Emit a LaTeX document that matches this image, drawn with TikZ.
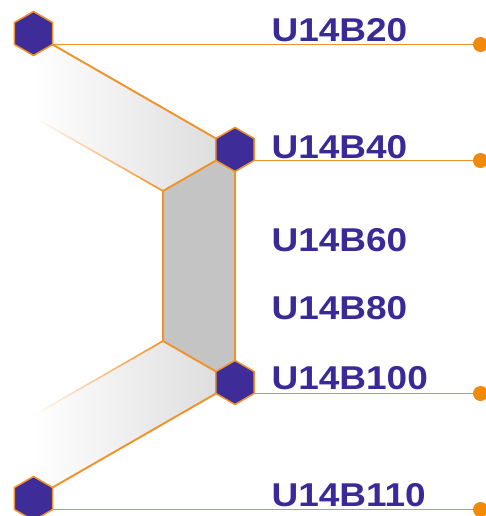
\documentclass[tikz,border=0pt]{standalone}
\usepackage{fontspec}
\setmainfont{Liberation Sans}
\newfontfamily\labfont[FakeStretch=1.12]{Liberation Sans}
\usetikzlibrary{shapes.geometric}
\definecolor{lineor}{RGB}{241,145,40}
\definecolor{dotor}{RGB}{240,138,10}
\definecolor{hexfill}{RGB}{62,44,152}
\definecolor{labcol}{RGB}{58,42,152}
\definecolor{bandgray}{RGB}{222,222,222}
\definecolor{midgray}{RGB}{196,196,196}
\tikzset{
  hexnode/.style={regular polygon, regular polygon sides=6, shape border rotate=30,
    minimum size=44pt, inner sep=0pt, fill=hexfill, draw=lineor, line width=1.5pt},
  dotnode/.style={circle, fill=dotor, minimum size=15pt, inner sep=0pt},
  wire/.style={draw=lineor, line width=1.9pt},
  fadeedge/.style={left color=white, right color=lineor},
  lab/.style={anchor=base west, inner sep=0pt, text=labcol, font=\labfont\bfseries\fontsize{33}{33}\selectfont}
}
\begin{document}
\begin{tikzpicture}[x=1pt,y=-1pt]
\useasboundingbox (0,0) rectangle (485,516);
% bands
\fill[left color=white, right color=bandgray]
  (52.5,44.5) -- (216,138.5) -- (216,160.5) -- (163,191) -- (33.5,117) -- (33.5,55.5) -- cycle;
\fill[left color=white, right color=bandgray]
  (163,341) -- (216,371.5) -- (216,393.5) -- (52.5,487.5) -- (33.5,476.5) -- (33.5,415.5) -- cycle;
\fill[midgray] (163,191) -- (216,160.5) -- (235,171.5) -- (235,360.5) -- (216,371.5) -- (163,341) -- cycle;
% band edges
\coordinate (a1) at (52.5,44.5);
\coordinate (a2) at (216,138.5);
\coordinate (g1) at (163,191);
\coordinate (g2) at (216,160.5);
\coordinate (g3) at (235,171.5);
\coordinate (g4) at (235,360.5);
\coordinate (g5) at (216,371.5);
\coordinate (g6) at (163,341);
\coordinate (b1) at (216,393.5);
\coordinate (b2) at (52.5,487.5);
\coordinate (f1) at (33.5,117);
\coordinate (f2) at (33.5,415.5);
\draw[wire] (a1) -- (a2);
\draw[wire] (g2) -- (g1) -- (g6) -- (g5);
\draw[wire] (g3) -- (g4);
\draw[wire] (b1) -- (b2);
% fading edges (thin shaded strips)
\shade[fadeedge] ([yshift=-0.95pt]f1) -- ([yshift=-0.95pt]g1) -- ([yshift=0.95pt]g1) -- ([yshift=0.95pt]f1) -- cycle;
\shade[fadeedge] ([yshift=-0.95pt]f2) -- ([yshift=-0.95pt]g6) -- ([yshift=0.95pt]g6) -- ([yshift=0.95pt]f2) -- cycle;
% dots and wires
\node[dotnode] (d1) at (480.5,44.5) {};
\node[dotnode] (d2) at (480.5,160.5) {};
\node[dotnode] (d3) at (480.5,393.5) {};
\node[dotnode] (d4) at (480.5,509.5) {};
\coordinate (v1) at (52.5,44.5);
\coordinate (v2) at (254,160.5);
\coordinate (v3) at (254,393.5);
\coordinate (v4) at (52.5,509.5);
\draw[wire] (v1) -- (d1);
\draw[wire] (v2) -- (d2);
\draw[wire] (v3) -- (d3);
\draw[wire] (v4) -- (d4);
% hexagons
\node[hexnode] (h1) at (33.5,33.5) {};
\node[hexnode] (h2) at (235,149.5) {};
\node[hexnode] (h3) at (235,382.5) {};
\node[hexnode] (h4) at (33.5,498.5) {};
% labels
\node[lab] (l1) at (271.5,42) {U14B20};
\node[lab] (l2) at (271.5,158) {U14B40};
\node[lab] (l3) at (271.5,251) {U14B60};
\node[lab] (l4) at (271.5,319) {U14B80};
\node[lab] (l5) at (271.5,389) {U14B100};
\node[lab] (l6) at (271.5,506) {U14B110};
\end{tikzpicture}
\end{document}
